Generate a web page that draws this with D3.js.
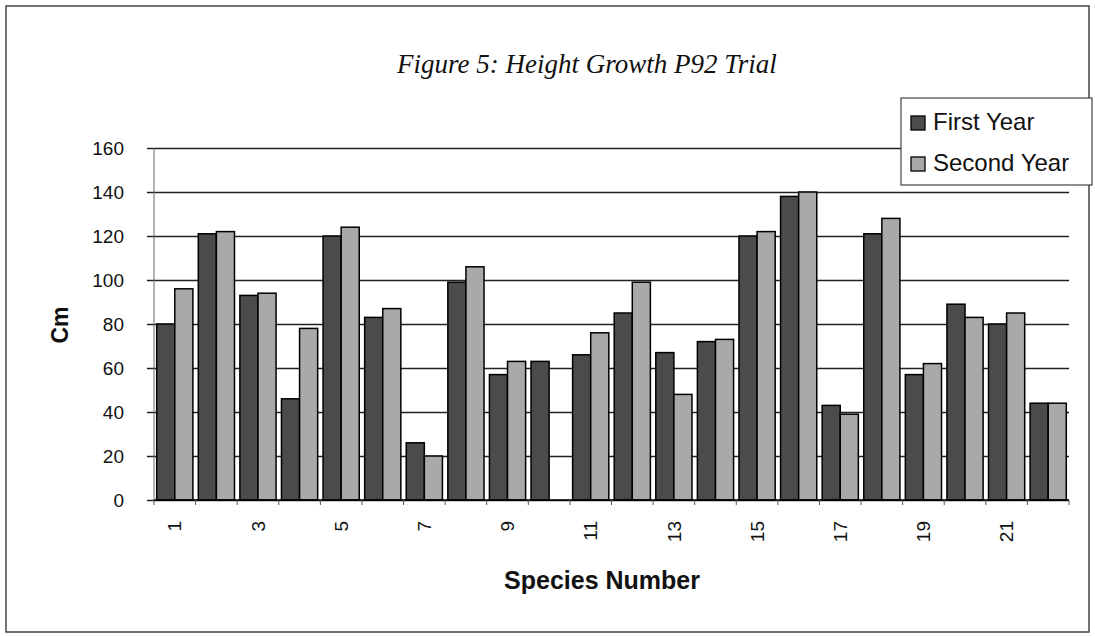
<!DOCTYPE html>
<html>
<head>
<meta charset="utf-8">
<script src="https://cdn.jsdelivr.net/npm/d3@7"></script>
<style>
  body{margin:0;background:#fff;}
  text{font-family:"Liberation Sans",Arial,sans-serif;fill:#111;}
</style>
</head>
<body>
<svg id="chart"></svg>
<script>
// species along the x axis
const species = ["1","2","3","4","5","6","7","8","9","10","11","12","13","14","15","16","17","18","19","20","21","22"];
const xTickLabels = ["1","3","5","7","9","11","13","15","17","19","21"];
const yTicks = [0,20,40,60,80,100,120,140,160];
const seriesNames = ["First Year","Second Year"];
// height growth in cm
const firstYear  = [80,121,93,46,120,83,26,99,57,63,66,85,67,72,120,138,43,121,57,89,80,44];
const secondYear = [96,122,94,78,124,87,20,106,63,null,76,99,48,73,122,140,39,128,62,83,85,44];

const W = 1095, H = 636;
const M = {left:154, right:1069, top:148, bottom:500};
const COLORS = ["#4b4b4b","#a9a9a9"];

const svg = d3.select("#chart").attr("width",W).attr("height",H);

// outer frame
svg.append("rect")
  .attr("x",6).attr("y",6).attr("width",W-12).attr("height",H-10)
  .attr("fill","none").attr("stroke","#444").attr("stroke-width",1.5);

svg.append("text")
  .attr("x",587).attr("y",73)
  .attr("text-anchor","middle")
  .style("font-family","'Liberation Serif','Times New Roman',serif")
  .style("font-style","italic")
  .style("font-size","27px")
  .text("Figure 5:  Height Growth P92 Trial");

const x0 = d3.scaleBand().domain(species).range([M.left,M.right])
  .paddingInner(0.13).paddingOuter(0.065);
const x1 = d3.scaleBand().domain(seriesNames).range([0,x0.bandwidth()]);
const y = d3.scaleLinear().domain([0,160]).range([M.bottom,M.top]);

// gridlines + outward ticks
const yAxis = d3.axisLeft(y).tickValues(yTicks)
  .tickSize(-(M.right-M.left)).tickPadding(30).tickSizeOuter(0);
const gy = svg.append("g").attr("transform","translate(" + M.left + ",0)").call(yAxis);
gy.select(".domain").remove();
gy.selectAll(".tick line")
  .attr("x1",-7)
  .attr("stroke","#222").attr("stroke-width",1.4);
gy.selectAll(".tick text")
  .style("font-size","19px").attr("fill","#111");

// left axis line
svg.append("line")
  .attr("x1",M.left).attr("x2",M.left).attr("y1",M.top).attr("y2",M.bottom)
  .attr("stroke","#666").attr("stroke-width",1);

// bars
const rows = species.map((s,i) => ({s:s, vals:[firstYear[i], secondYear[i]]}));
const groups = svg.append("g").selectAll("g").data(rows).enter().append("g")
  .attr("transform", d => "translate(" + x0(d.s) + ",0)");
groups.selectAll("rect")
  .data(d => d.vals.map((v,j) => ({name:seriesNames[j], v:v, j:j})).filter(e => e.v != null))
  .enter().append("rect")
  .attr("x", e => x1(e.name))
  .attr("y", e => y(e.v))
  .attr("width", x1.bandwidth())
  .attr("height", e => y(0) - y(e.v))
  .attr("fill", e => COLORS[e.j])
  .attr("stroke","#000").attr("stroke-width",1.5);

// x axis
const step = x0.step();
svg.append("line")
  .attr("x1",M.left).attr("x2",M.right).attr("y1",M.bottom).attr("y2",M.bottom)
  .attr("stroke","#000").attr("stroke-width",1.5);
svg.append("g").selectAll("line").data(d3.range(species.length+1)).enter().append("line")
  .attr("x1", k => M.left + k*step).attr("x2", k => M.left + k*step)
  .attr("y1",M.bottom).attr("y2",M.bottom+5)
  .attr("stroke","#555").attr("stroke-width",1);
svg.append("g").selectAll("text").data(xTickLabels).enter().append("text")
  .attr("transform", d => "translate(" + (x0(d) + x0.bandwidth()/2) + "," + (M.bottom+21) + ") rotate(-90)")
  .attr("text-anchor","end")
  .attr("dy","0.35em")
  .style("font-size","19px")
  .text(d => d);

svg.append("text")
  .attr("x",602).attr("y",589)
  .attr("text-anchor","middle")
  .style("font-size","25px").style("font-weight","bold")
  .text("Species Number");

svg.append("text")
  .attr("transform","translate(68,325) rotate(-90)")
  .attr("text-anchor","middle")
  .style("font-size","23px").style("font-weight","bold")
  .text("Cm");

// legend
const lg = svg.append("g").attr("transform","translate(901,98)");
lg.append("rect").attr("width",191).attr("height",87)
  .attr("fill","#fff").attr("stroke","#444").attr("stroke-width",1.2);
seriesNames.forEach((n,i) => {
  lg.append("rect").attr("x",10).attr("y",18 + i*41).attr("width",14).attr("height",14)
    .attr("fill",COLORS[i]).attr("stroke","#000").attr("stroke-width",1.3);
  lg.append("text").attr("x",32).attr("y",32 + i*41)
    .style("font-size","24px").text(n);
});
</script>
</body>
</html>
